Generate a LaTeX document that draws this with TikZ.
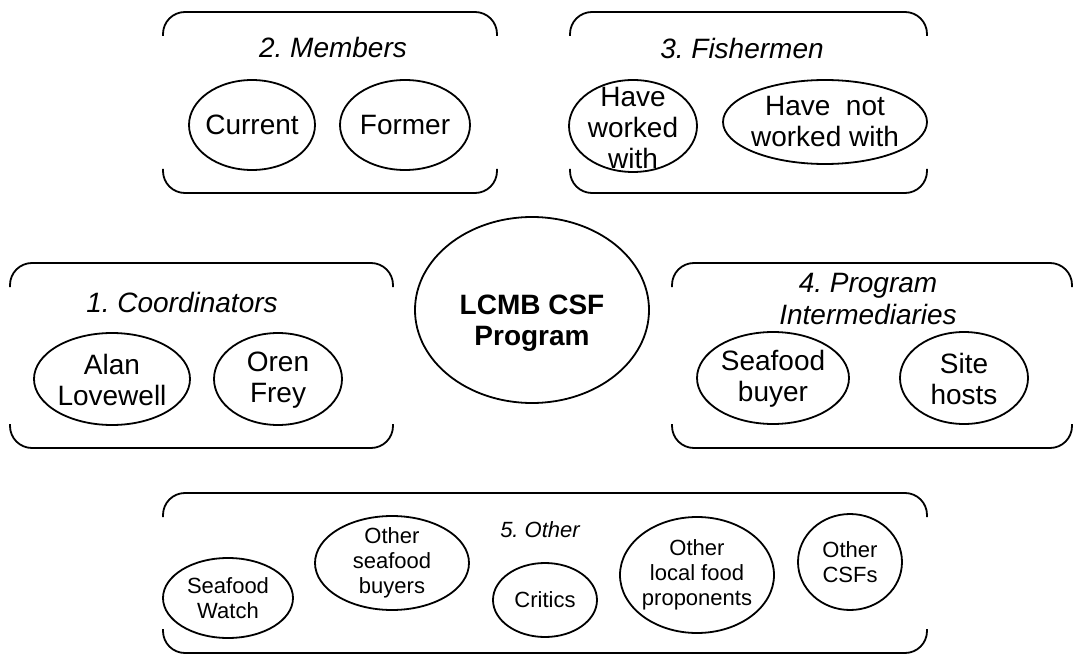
\documentclass[tikz,border=0pt]{standalone}
\usepackage{fontspec}
\setmainfont{Liberation Sans}
\usepackage{tikz}
\usetikzlibrary{shapes.geometric}
\frenchspacing
\tikzset{
  txt/.style={align=center,inner sep=0pt,font=\fontsize{28}{31}\selectfont},
  smalltxt/.style={align=center,inner sep=0pt,font=\fontsize{22}{25}\selectfont},
  grouptitle/.style={align=center,inner sep=0pt,font=\fontsize{28}{32}\selectfont\itshape},
  smalltitle/.style={align=center,inner sep=0pt,font=\fontsize{22}{25}\selectfont\itshape},
  ring/.style={draw,line width=1.8pt},
  frame/.style={line width=1.8pt,rounded corners=22pt}
}

\begin{document}
\begin{tikzpicture}[x=1pt,y=-1pt]
  \useasboundingbox (0,0) rectangle (1074,655);
  % open frames of the five groups
  \foreach \l/\t/\r/\b in {163/12/497/193,570/12/927/193,10/263/393/448,672/263/1072/448,163/493/927/653}{
    \draw[frame] (\l,\t+24) -- (\l,\t) -- (\r,\t) -- (\r,\t+24);
    \draw[frame] (\l,\b-24) -- (\l,\b) -- (\r,\b) -- (\r,\b-24);
  }
  % program in the middle
  \node[txt,font=\fontsize{28}{31}\selectfont\bfseries] (prog) at (532,323) {LCMB CSF\\Program};
  \draw[ring] (532,310) ellipse (117pt and 93pt);
  % 1. coordinators
  \node[grouptitle] (coordt) at (182,302) {1. Coordinators};
  \node[txt] (alan) at (112,380) {Alan\\Lovewell};
  \draw[ring] (112,379) ellipse (78pt and 46pt);
  \node[txt] (oren) at (278,380) {Oren\\Frey};
  \draw[ring] (278,379) ellipse (64pt and 46pt);
  % 2. members
  \node[grouptitle] (membt) at (333,47) {2. Members};
  \node[txt] (cur) at (252,125) {Current};
  \draw[ring] (cur.center) ellipse (63pt and 45pt);
  \node[txt] (former) at (405,125) {Former};
  \draw[ring] (former.center) ellipse (65pt and 45pt);
  % 3. fishermen
  \node[grouptitle] (fisht) at (742,48) {3. Fishermen};
  \node[txt] (worked) at (633,128) {Have\\worked\\with};
  \draw[ring] (633,126) ellipse (64pt and 46pt);
  \node[txt] (notworked) at (825,122) {Have~ not\\worked with};
  \draw[ring] (notworked.center) ellipse (102pt and 42pt);
  % 4. intermediaries
  \node[grouptitle] (intert) at (868,299) {4. Program\\Intermediaries};
  \node[txt] (buyer) at (773,379) {Seafood\\buyer};
  \draw[ring] (773,378) ellipse (76pt and 46pt);
  \node[txt] (hosts) at (964,379) {Site\\hosts};
  \draw[ring] (964,378) ellipse (64pt and 46pt);
  % 5. other
  \node[smalltitle] (othert) at (540,530) {5. Other};
  \node[smalltxt] (watch) at (228,598) {Seafood\\Watch};
  \draw[ring] (watch.center) ellipse (65pt and 40pt);
  \node[smalltxt] (obuyers) at (392,563) {Other\\seafood\\buyers};
  \draw[ring] (obuyers.center) ellipse (77pt and 47pt);
  \node[smalltxt] (critics) at (545,600) {Critics};
  \draw[ring] (critics.center) ellipse (52pt and 37pt);
  \node[smalltxt] (localfood) at (697,575) {Other\\local food\\proponents};
  \draw[ring] (localfood.center) ellipse (77pt and 58pt);
  \node[smalltxt] (csfs) at (850,562) {Other\\CSFs};
  \draw[ring] (csfs.center) ellipse (52pt and 48pt);
\end{tikzpicture}
\end{document}
